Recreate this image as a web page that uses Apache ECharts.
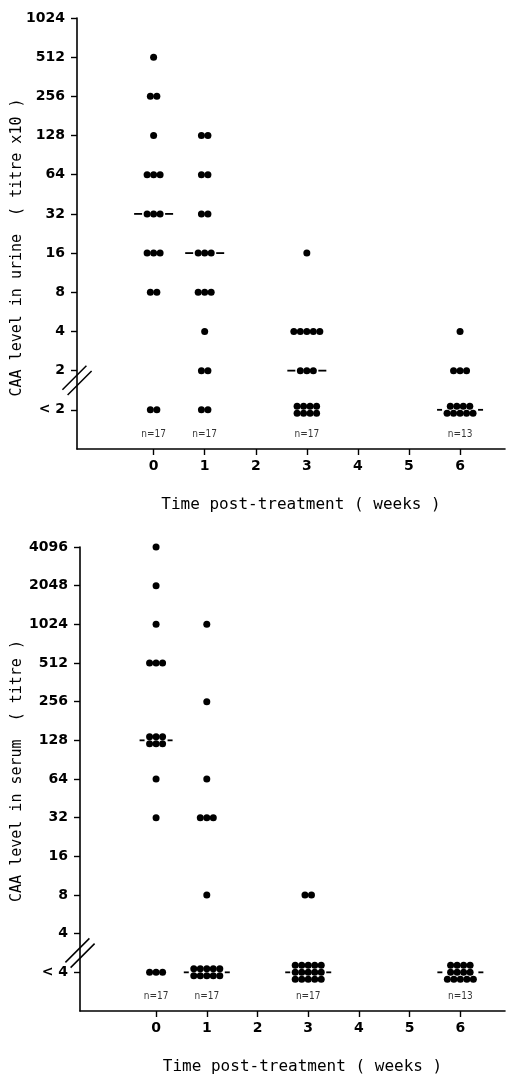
<!DOCTYPE html>
<html>
<head>
<meta charset="utf-8">
<script src="https://cdn.jsdelivr.net/npm/echarts@6.0.0/dist/echarts.min.js"></script>
<style>
html,body{margin:0;padding:0;background:#fff;}
#chart{width:506px;height:1078px;}
</style>
</head>
<body>
<div id="chart"></div>
<script>
// ---- data ----
const weeks = [0, 1, 3, 6];
const weekLabels = ['0', '1', '2', '3', '4', '5', '6'];
const urineTicks = ['< 2', '2', '4', '8', '16', '32', '64', '128', '256', '512', '1024'];
const serumTicks = ['< 4', '4', '8', '16', '32', '64', '128', '256', '512', '1024', '2048', '4096'];
// counts of patients at each titre level (index into tick arrays, low -> high)
const urineWeek0 = [2, 0, 0, 2, 3, 3, 3, 1, 2, 1, 0];
const urineWeek1 = [2, 2, 1, 3, 3, 2, 2, 2, 0, 0, 0];
const urineWeek3 = [8, 3, 5, 0, 1, 0, 0, 0, 0, 0, 0];
const urineWeek6 = [9, 3, 1, 0, 0, 0, 0, 0, 0, 0, 0];
const urineMedians = [5, 4, 1, 0];
const urineN = ['n=17', 'n=17', 'n=17', 'n=13'];

const serumWeek0 = [3, 0, 0, 0, 1, 1, 6, 0, 3, 1, 1, 1];
const serumWeek1 = [10, 0, 1, 0, 3, 1, 0, 1, 0, 1, 0, 0];
const serumWeek3 = [15, 0, 2, 0, 0, 0, 0, 0, 0, 0, 0, 0];
const serumWeek6 = [13, 0, 0, 0, 0, 0, 0, 0, 0, 0, 0, 0];
const serumMedians = [6, 0, 0, 0];
const serumN = ['n=17', 'n=17', 'n=17', 'n=13'];

// ---- layout helpers (pixel offsets only) ----
const DOT = 7, SP = 6.5, ROWSP = 7, MAXROW = 5;
function rowSizes(c) {
  const n = Math.ceil(c / MAXROW);
  const base = Math.floor(c / n), extra = c % n;
  const rows = new Array(n).fill(base);
  for (let i = 0; i < extra; i++) rows[n - 1 - i] += 1;
  return rows;
}
function dots(countsByWeek) {
  const out = [];
  countsByWeek.forEach((counts, wi) => {
    counts.forEach((c, li) => {
      if (!c) return;
      const rows = rowSizes(c);
      rows.forEach((k, r) => {
        const dy = (r - (rows.length - 1) / 2) * ROWSP;
        for (let j = 0; j < k; j++) {
          out.push({ value: [weeks[wi], li], symbolOffset: [(j - (k - 1) / 2) * SP, dy] });
        }
      });
    });
  });
  return out;
}
function medianDashes(countsByWeek, medians) {
  const out = [];
  medians.forEach((li, wi) => {
    const c = countsByWeek[wi][li];
    const rows = rowSizes(c);
    const k = Math.max.apply(null, rows);
    const half = ((k - 1) * SP + DOT) / 2;
    const len = rows.length > 1 ? 5 : 8;
    const off = half + 1.5 + len / 2;
    [-1, 1].forEach(s => out.push({ value: [weeks[wi], li], symbolSize: [len, 1.8], symbolOffset: [s * off, 0] }));
  });
  return out;
}

const FONT = 'DejaVu Sans';
const NAMEFONT = 'DejaVu Sans Mono';
const INK = '#000';

function axes(gi, ticks, yName, xMin) {
  const yVals = ticks.map((_, i) => i);
  const xVals = weekLabels.map((_, i) => i);
  return {
    x: {
      type: 'value', gridIndex: gi, min: xMin, max: 6.88,
      axisLine: { show: true, onZero: false, lineStyle: { color: INK, width: 1.6 } },
      axisTick: { show: true, customValues: xVals, length: 6, lineStyle: { color: INK, width: 1.4 } },
      axisLabel: { customValues: xVals, formatter: v => weekLabels[Math.round(v)], color: INK, fontFamily: FONT, fontWeight: 'bold', fontSize: 14, margin: 10 },
      splitLine: { show: false },
      name: 'Time post-treatment ( weeks )', nameLocation: 'middle', nameGap: 48,
      nameTextStyle: { color: INK, fontFamily: NAMEFONT, fontSize: 16, padding: [0, 0, 0, 20] }
    },
    y: {
      type: 'value', gridIndex: gi, min: -1, max: ticks.length - 1,
      axisLine: { show: true, onZero: false, lineStyle: { color: INK, width: 1.6 } },
      axisTick: { show: true, customValues: yVals, length: 6, lineStyle: { color: INK, width: 1.4 } },
      axisLabel: { customValues: yVals, formatter: v => ticks[Math.round(v)], color: INK, fontFamily: FONT, fontWeight: 'bold', fontSize: 14, margin: 12 },
      splitLine: { show: false },
      name: yName, nameLocation: 'middle', nameGap: 52, nameRotate: 90, nameMoveOverlap: false,
      nameTextStyle: { color: INK, fontFamily: NAMEFONT, fontSize: 15 }
    }
  };
}

const a0 = axes(0, urineTicks, 'CAA level in urine  ( titre x10 )', -1.5);
const a1 = axes(1, serumTicks, 'CAA level in serum  ( titre )', -1.5);
a0.y.nameTextStyle.padding = [0, 28, 0, 0];
a1.y.nameTextStyle.padding = [0, 0, 0, 16];
a1.y.nameGap = 55;

function breakSeries(gi, yPos, xMin) {
  return {
    type: 'custom', xAxisIndex: gi, yAxisIndex: gi, clip: false, silent: true, z: 5,
    data: [[xMin, yPos]],
    renderItem: (params, api) => {
      const p = api.coord([api.value(0), api.value(1)]);
      const h = 12, g = 2.6;
      const mk = o => ({ type: 'line', shape: { x1: p[0] - h + o, y1: p[1] + h + o, x2: p[0] + h + o, y2: p[1] - h + o }, style: { stroke: INK, lineWidth: 1.5 } });
      return { type: 'group', children: [mk(-g), mk(g)] };
    }
  };
}

function nSeries(gi, labels) {
  return {
    type: 'scatter', xAxisIndex: gi, yAxisIndex: gi, symbolSize: 0, silent: true,
    data: weeks.map(w => [w, -0.62]),
    label: { show: true, position: 'inside', formatter: p => labels[p.dataIndex], color: INK, fontFamily: 'DejaVu Sans Condensed, DejaVu Sans', fontSize: 10 }
  };
}

const urineCounts = [urineWeek0, urineWeek1, urineWeek3, urineWeek6];
const serumCounts = [serumWeek0, serumWeek1, serumWeek3, serumWeek6];
const dotStyle = { color: INK, opacity: 1 };

const option = {
  animation: false,
  backgroundColor: '#fff',
  grid: [
    { left: 77, top: 18, width: 428, height: 431, outerBoundsMode: 'none', containLabel: false },
    { left: 80, top: 547, width: 425, height: 464, outerBoundsMode: 'none', containLabel: false }
  ],
  xAxis: [a0.x, a1.x],
  yAxis: [a0.y, a1.y],
  series: [
    { type: 'scatter', xAxisIndex: 0, yAxisIndex: 0, symbol: 'circle', symbolSize: DOT, itemStyle: dotStyle, data: dots(urineCounts), silent: true },
    { type: 'scatter', xAxisIndex: 0, yAxisIndex: 0, symbol: 'rect', itemStyle: dotStyle, data: medianDashes(urineCounts, urineMedians), silent: true },
    { type: 'scatter', xAxisIndex: 1, yAxisIndex: 1, symbol: 'circle', symbolSize: DOT, itemStyle: dotStyle, data: dots(serumCounts), silent: true },
    { type: 'scatter', xAxisIndex: 1, yAxisIndex: 1, symbol: 'rect', itemStyle: dotStyle, data: medianDashes(serumCounts, serumMedians), silent: true },
    nSeries(0, urineN),
    nSeries(1, serumN),
    breakSeries(0, 0.75, -1.5),
    breakSeries(1, 0.5, -1.5)
  ]
};

const chart = echarts.init(document.getElementById('chart'), null, { renderer: 'canvas' });
chart.setOption(option);
</script>
</body>
</html>
